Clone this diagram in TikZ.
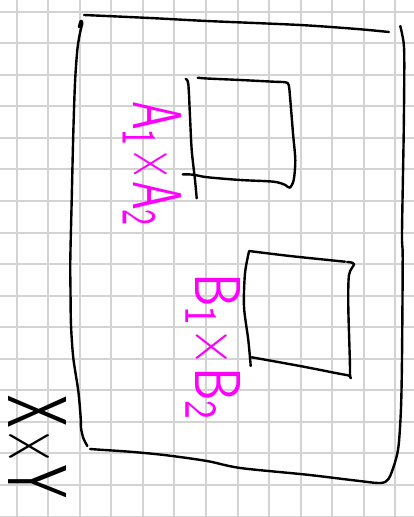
\documentclass[tikz,border=0pt]{standalone}
\definecolor{gridgray}{RGB}{211,211,211}
\definecolor{pen}{RGB}{255,0,255}
\tikzset{
  gridline/.style={draw=gridgray,line width=2pt},
  ink/.style={draw=black,line width=2.4pt,line cap=round,line join=round},
  hand/.style={inner sep=0pt,outer sep=0pt,rotate=-90,anchor=base west,font=\sffamily},
}
\begin{document}
\begin{tikzpicture}[x=1pt,y=-1pt]
\useasboundingbox[fill=white] (0,0) rectangle (414,517);
% grid
\foreach \k in {0,...,12} {
  \draw[gridline] ({16.7+31.55*\k},0) -- ({16.7+31.55*\k},517);
}
\foreach \k in {0,...,16} {
  \draw[gridline] (0,{11.7+31.55*\k}) -- (414,{11.7+31.55*\k});
}
% outer frame
\draw[ink] plot[smooth,tension=0.5] coordinates {(84,15) (150,18) (207,21) (300,25) (357,29) (389,32)};
\draw[ink] plot[smooth,tension=0.5] coordinates {(79,27) (80.7,21) (82.3,23) (80,33) (77.3,50) (75,83) (73.3,133) (71.7,200) (70.3,260) (70.5,291) (71,325) (73.3,358) (78.3,391) (80.7,418) (81,428) (83.3,438) (87.3,446)};
\draw[ink] plot[smooth,tension=0.5] coordinates {(90,449) (100,449.7) (133.3,452) (166.7,455.3) (207,461) (240.3,468) (307,474.7) (357,480.7) (380.3,483) (388.7,478.7) (395.3,461.3) (398.7,444.7) (401,408) (402,358) (402.7,258) (402,233.3) (403.7,133.3) (404.3,66.7) (403.7,43.3) (400.3,26)};
% box A
\draw[ink] plot[smooth,tension=0.5] coordinates {(185.7,79) (188.3,84) (190,116.7) (191.7,150) (195,180) (196.7,198.3)};
\draw[ink] plot[smooth,tension=0.5] coordinates {(197.7,77.7) (207,78.5) (240.3,80) (273.7,81.7) (285.3,82.3) (288.7,85) (290.3,100) (293,133.3) (295.3,160) (293.7,180) (289.7,187.7) (285.3,185) (273.7,181.7) (240.3,180) (207,177.2) (193.3,174.7) (182.7,174.3)};
% box B
\draw[ink] plot[smooth,tension=0.5] coordinates {(249,251.5) (245,273.3) (244,306.7) (248.3,340) (250.7,366)};
\draw[ink] plot[smooth,tension=0.5] coordinates {(249,251) (290,256) (345,261.7)};
\draw[ink] plot[smooth,tension=0.5] coordinates {(347,262) (354,264) (349,275) (348.3,306.7) (350,373.3) (346.7,375) (300,366) (251.7,357.3)};
% labels
\node[hand,text=pen] (ta) at (133,101) {\resizebox{127pt}{48pt}{A$_{\mathsf{1}}\times$A$_{\mathsf{2}}$}};
\node[hand,text=pen] (tb) at (195,273) {\resizebox{149pt}{45pt}{B$_{\mathsf{1}}\times$B$_{\mathsf{2}}$}};
\node[hand,text=black] (txy) at (9,395) {\resizebox{103pt}{58pt}{X$\times$Y}};
\end{tikzpicture}
\end{document}
